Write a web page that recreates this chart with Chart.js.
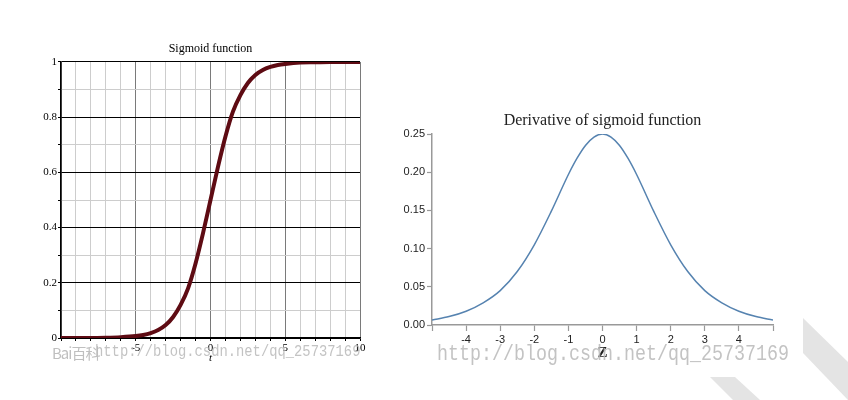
<!DOCTYPE html>
<html>
<head>
<meta charset="utf-8">
<script src="https://cdn.jsdelivr.net/npm/chart.js@4.4.0/dist/chart.umd.min.js"></script>
<style>
  html, body { margin: 0; padding: 0; background: #fff; }
  #wrap { position: relative; width: 848px; height: 400px; overflow: hidden; }
  canvas { position: absolute; top: 0; }
  #sigmoid-wrap { position: absolute; left: 0; top: 0; width: 412px; height: 400px; }
  #deriv-wrap { position: absolute; left: 390px; top: 0; width: 426px; height: 400px; }
  .stripe { position: absolute; left: 0; top: 0; width: 848px; height: 400px; background: #e4e4e4; }
  .mark { position: absolute; white-space: nowrap; pointer-events: none; color: rgba(185,185,185,0.85);
          font-family: "Liberation Mono", monospace; transform-origin: 0 0; transform: scaleX(0.833); }
  #baidu { position: absolute; left: 52px; top: 342px; font: 15px "Noto Sans CJK SC", sans-serif;
           color: rgba(175,175,175,0.8); letter-spacing: -1px; pointer-events: none; }
</style>
</head>
<body>
<div id="wrap">
  <div class="stripe" style="clip-path: polygon(803px 318px, 848px 362px, 848px 400px, 803px 353px);"></div>
  <div class="stripe" style="clip-path: polygon(710px 377px, 735px 377px, 760px 400px, 733px 400px);"></div>
  <div id="sigmoid-wrap"><canvas id="sigmoid"></canvas></div>
  <div id="deriv-wrap"><canvas id="derivative"></canvas></div>
  <div id="baidu">Bai百科</div>
  <div class="mark" style="left:95px; top:342px; font-size:16.6px;">http://blog.csdn.net/qq_25737169</div>
  <div class="mark" style="left:437px; top:342px; font-size:22px;">http://blog.csdn.net/qq_25737169</div>
</div>

<script>
// valores
const sigmoidX = [-10, -9, -8, -7, -6, -5, -4.5, -4, -3.5, -3, -2.5, -2, -1.5, -1, -0.5, 0,
  0.5, 1, 1.5, 2, 2.5, 3, 3.5, 4, 4.5, 5, 6, 7, 8, 9, 10];
const sigmoidY = [0, 0, 0, 0.001, 0.003, 0.007, 0.011, 0.018, 0.029, 0.047, 0.076, 0.12, 0.18, 0.27, 0.38, 0.5,
  0.62, 0.73, 0.82, 0.88, 0.924, 0.953, 0.971, 0.982, 0.989, 0.993, 0.998, 0.999, 1, 1, 1];

const derivX = [-5, -4.5, -4, -3.5, -3, -2.5, -2, -1.5, -1, -0.75, -0.5, -0.25, 0,
  0.25, 0.5, 0.75, 1, 1.5, 2, 2.5, 3, 3.5, 4, 4.5, 5];
const derivY = [0.0066, 0.011, 0.018, 0.029, 0.045, 0.070, 0.105, 0.149, 0.197, 0.218, 0.235, 0.246, 0.25,
  0.246, 0.235, 0.218, 0.197, 0.149, 0.105, 0.070, 0.045, 0.029, 0.018, 0.011, 0.0066];

const sigmoidXTicks = ['-5', '0', '5', '10'];
const sigmoidYTicks = ['0', '0.2', '0.4', '0.6', '0.8', '1'];
const derivXTicks = ['-4', '-3', '-2', '-1', '0', '1', '2', '3', '4'];
const derivYTicks = ['0.00', '0.05', '0.10', '0.15', '0.20', '0.25'];

const serif = '"Liberation Serif", "Times New Roman", serif';
const sans = '"Liberation Sans", Arial, sans-serif';

function toPoints(xs, ys) {
  return xs.map((x, i) => ({ x: x, y: ys[i] }));
}

function isMajor(value, step) {
  const r = value / step;
  return Math.abs(r - Math.round(r)) < 1e-6;
}

// grafico da esquerda: sigmoid
new Chart(document.getElementById('sigmoid'), {
  type: 'line',
  data: {
    datasets: [{
      data: toPoints(sigmoidX, sigmoidY),
      borderColor: '#5e0b13',
      borderWidth: 4,
      pointRadius: 0,
      cubicInterpolationMode: 'monotone'
    }]
  },
  options: {
    responsive: true,
    maintainAspectRatio: false,
    animation: false,
    layout: { padding: { left: 0, right: 52, top: 0, bottom: 0 } },
    plugins: {
      legend: { display: false },
      tooltip: { enabled: false },
      title: {
        display: true,
        fullSize: false,
        text: 'Sigmoid function',
        color: '#000',
        font: { family: serif, size: 12, weight: 'normal' },
        padding: { top: 41.8, bottom: 5.8 }
      }
    },
    scales: {
      x: {
        type: 'linear',
        min: -10,
        max: 10,
        afterFit: (scale) => { scale.height = 62; },
        ticks: {
          stepSize: 1,
          autoSkip: false,
          maxRotation: 0,
          padding: 1,
          color: '#000',
          font: { family: serif, size: 11 },
          callback: (value) => sigmoidXTicks.includes(String(value)) ? String(value) : ''
        },
        grid: {
          color: (ctx) => isMajor(ctx.tick.value, 5) ? '#7a7a7a' : '#cdcdcd',
          tickColor: '#000',
          tickLength: 3,
          lineWidth: 1
        },
        border: { color: '#000', width: 1.5 },
        title: {
          display: true,
          text: 't',
          color: '#000',
          font: { family: serif, size: 11, style: 'italic' },
          padding: { top: 0, bottom: 35.4 }
        }
      },
      y: {
        min: 0,
        max: 1,
        afterFit: (scale) => { scale.width = 61; },
        ticks: {
          stepSize: 0.1,
          padding: 1,
          color: '#000',
          font: { family: serif, size: 11 },
          callback: (value) => {
            const label = String(Math.round(value * 10) / 10);
            return sigmoidYTicks.includes(label) ? label : '';
          }
        },
        grid: {
          color: (ctx) => isMajor(ctx.tick.value, 0.2) ? '#000' : '#cdcdcd',
          tickColor: '#000',
          tickLength: 3,
          lineWidth: 1
        },
        border: { color: '#000', width: 1.5 }
      }
    }
  }
});

// grafico da direita: derivada
new Chart(document.getElementById('derivative'), {
  type: 'line',
  data: {
    datasets: [{
      data: toPoints(derivX, derivY),
      borderColor: 'rgb(86, 131, 176)',
      borderWidth: 1.5,
      pointRadius: 0,
      cubicInterpolationMode: 'monotone'
    }]
  },
  options: {
    responsive: true,
    maintainAspectRatio: false,
    animation: false,
    layout: { padding: { left: 0, right: 43, top: 0, bottom: 0 } },
    plugins: {
      legend: { display: false },
      tooltip: { enabled: false },
      title: {
        display: true,
        fullSize: false,
        text: 'Derivative of sigmoid function',
        color: '#222',
        font: { family: serif, size: 16, weight: 'normal' },
        padding: { top: 111, bottom: 3.8 }
      }
    },
    scales: {
      x: {
        type: 'linear',
        min: -5,
        max: 5,
        afterFit: (scale) => { scale.height = 75; },
        ticks: {
          stepSize: 1,
          autoSkip: false,
          maxRotation: 0,
          padding: 2,
          color: '#222',
          font: { family: sans, size: 11 },
          callback: (value) => derivXTicks.includes(String(value)) ? String(value) : ''
        },
        grid: {
          drawOnChartArea: false,
          tickColor: '#999',
          tickLength: 6,
          tickWidth: 1.2
        },
        border: { color: '#999', width: 1.5 },
        title: {
          display: true,
          text: 'Z',
          color: '#222',
          font: { family: serif, size: 15, weight: 'bold' },
          padding: { top: 0, bottom: 38 }
        }
      },
      y: {
        min: 0,
        max: 0.25,
        afterFit: (scale) => { scale.width = 42; },
        ticks: {
          stepSize: 0.05,
          padding: 2,
          color: '#222',
          font: { family: sans, size: 11 },
          callback: (value) => {
            const label = value.toFixed(2);
            return derivYTicks.includes(label) ? label : '';
          }
        },
        grid: {
          drawOnChartArea: false,
          tickColor: '#999',
          tickLength: 5,
          tickWidth: 1.2
        },
        border: { color: '#999', width: 1.5 }
      }
    }
  }
});
</script>
</body>
</html>
